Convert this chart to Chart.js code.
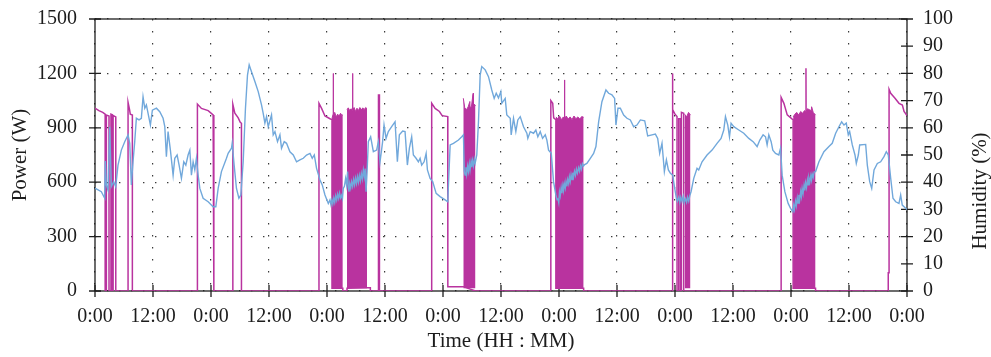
<!DOCTYPE html>
<html>
<head>
<meta charset="utf-8">
<script src="https://cdn.jsdelivr.net/npm/chart.js@4.4.1/dist/chart.umd.min.js"></script>
<style>
html,body{margin:0;padding:0;background:#fff;}
#wrap{width:991px;height:357px;position:relative;}
</style>
</head>
<body>
<div id="wrap"><canvas id="c" width="991" height="357"></canvas></div>
<script>
// ---- tick labels ----
const xTickLabels = ['0:00','12:00','0:00','12:00','0:00','12:00','0:00','12:00','0:00','12:00','0:00','12:00','0:00','12:00','0:00'];
const powerTickStep = 300;
const humidityTickStep = 10;

// ---- power (W) vs time (hours) : single on/off periods ----
const powerTime = [0,0.8,1.6,2.1,2.1,2.35,2.35,2.9,2.9,3.3,3.3,3.6,3.6,3.75,3.75,4.3,4.3,
  6.84,6.84,7.15,7.3,7.73,7.73,
  21.19,21.19,22.02,23.41,24.44,24.59,24.59,
  28.52,28.52,28.94,29.63,30.05,30.3,30.3,
  46.34,46.34,46.88,47.58,48.62,49.03,49.03,51.27,51.27,52.14,52.14,
  56.28,56.97,56.97,58.65,58.65,58.85,58.85,
  69.66,69.66,70.37,71.26,71.82,72.98,73.0,76.2,
  78.72,78.72,94.31,94.31,94.7,94.9,95.35,95.35,101.1,101.1,
  119.47,119.47,119.55,120.0,120.42,120.42,120.77,120.77,121.12,121.12,121.33,121.33,121.8,121.8,122.0,
  123.2,141.96,141.96,142.53,143.22,144.25,144.44,144.44,149.08,149.08,
  164.12,164.12,164.29,164.29,164.63,165.52,166.35,167.04,167.39,168];
const powerWatts = [1008,995,985,975,0,0,970,965,0,0,975,972,0,0,968,960,0,
  0,1040,1000,975,970,0,
  0,1031,1007,995,971,970,0,
  0,1030,980,955,930,925,0,
  0,1035,1007,965,950,945,15,15,0,0,15,
  18,18,0,0,1081,1081,0,
  0,1035,1007,990,967,962,24,24,
  0,0,0,1050,1035,955,945,15,15,0,
  0,1200,1000,975,962,0,0,950,950,0,0,985,980,0,0,
  0,0,1068,1035,971,948,945,15,15,0,
  0,100,100,1112,1090,1063,1035,1026,990,967];

// ---- rapid on/off cycling periods (envelope of the cycling, W) ----
const block1Time  = [49.03,49.2,49.28,49.29,49.32,49.33,49.6,49.9,50.2,50.5,50.8,51.1,51.27];
const block1Watts = [950,970,975,1200,1200,975,985,960,975,965,980,968,972];
const block2Time  = [52.14,52.4,52.7,53.0,53.27,53.29,53.32,53.34,53.6,53.9,54.2,54.5,54.8,55.1,55.4,55.7,56.0,56.28];
const block2Watts = [1000,1010,995,1005,995,1200,1200,1000,1012,990,1008,995,1012,998,1010,1000,1012,1005];
const block3Time  = [76.2,76.5,76.85,77.2,77.5,77.55,77.6,77.9,78.2,78.25,78.3,78.5,78.72];
const block3Watts = [1063,1010,1000,1015,1040,1045,1010,1020,1085,1090,1010,1030,1020];
const block4Time  = [95.35,95.7,96.1,96.5,96.9,97.12,97.15,97.18,97.5,97.9,98.3,98.7,99.1,99.5,99.9,100.3,100.7,101.1];
const block4Watts = [960,950,965,945,960,950,1164,950,965,948,960,945,965,950,960,948,962,958];
const block5Time  = [122.0,122.4,122.8,123.2];
const block5Watts = [975,960,985,970];
const block6Time  = [144.44,144.8,145.2,145.6,146.0,146.4,146.8,147.07,147.1,147.13,147.4,147.8,148.2,148.26,148.6,149.08];
const block6Watts = [960,975,985,970,990,980,995,990,1228,990,1005,1000,995,1016,985,970];

// ---- humidity (%) vs time (hours) ----
const humidityTime = [0,1.31,2.01,2.13,2.34,2.69,3.05,3.38,3.87,4.29,4.76,5.45,6.15,6.84,7.19,7.52,7.87,8.22,8.56,9.11,9.59,9.94,10.30,10.63,10.98,11.46,11.87,12.70,13.40,14.09,14.44,14.77,15.12,15.60,16.16,16.51,16.99,17.40,17.88,18.37,18.79,19.26,19.62,19.95,20.30,20.65,20.98,21.34,21.69,22.37,23.41,24.44,25.00,25.48,26.16,27.20,27.55,28.24,28.38,28.79,29.27,29.77,30.18,30.66,31.13,31.55,31.90,32.38,33.08,33.77,34.45,34.80,35.15,35.49,35.84,36.52,36.87,37.23,37.76,38.26,38.59,39.15,39.63,40.33,41.02,41.70,42.40,43.09,43.77,44.48,44.95,45.37,45.84,46.55,47.02,47.58,48.27,
  48.6,48.8,49.0,49.2,49.4,49.6,49.8,50.0,50.2,50.4,50.6,50.8,51.02,51.2,51.37,51.6,51.85,52.05,52.26,52.4,52.55,52.7,52.9,53.09,53.3,53.5,53.7,53.9,54.1,54.3,54.5,54.7,54.9,55.1,55.3,55.52,55.7,55.9,56.08,56.3,
  56.55,57.03,57.59,58.27,58.62,58.97,59.51,59.80,60.22,60.69,61.38,62.08,62.56,62.97,63.66,64.15,64.63,65.05,65.52,65.87,66.43,66.91,67.26,67.59,68.09,68.51,68.78,69.33,69.87,70.58,71.40,72.44,72.98,73.48,74.16,75.20,75.88,76.23,
  76.4,76.58,76.75,76.9,77.1,77.27,77.45,77.6,77.8,77.95,78.1,78.3,78.5,78.66,
  78.99,79.34,79.69,80.02,80.73,81.41,82.09,82.59,83.01,83.48,83.96,84.17,84.87,85.20,85.91,86.11,86.59,87.07,87.48,87.98,88.66,89.35,89.55,90.05,90.73,91.21,91.62,92.12,92.60,93.16,93.49,93.84,94.40,94.87,
  95.35,95.6,95.77,95.95,96.1,96.26,96.45,96.6,96.8,96.94,97.1,97.3,97.45,97.63,97.8,98.0,98.15,98.33,98.5,98.7,98.85,99.02,99.2,99.4,99.6,99.8,100.05,100.25,100.45,100.65,100.85,101.09,101.3,
  101.77,102.48,103.16,103.64,104.20,104.88,105.71,106.27,106.95,107.51,107.78,108.20,108.69,109.38,110.06,110.76,111.45,112.13,112.84,113.73,114.35,115.24,115.94,116.42,116.83,117.31,117.80,118.22,118.63,119.05,119.53,119.88,120.29,
  120.5,120.77,121.0,121.2,121.45,121.7,121.9,122.16,122.4,122.6,122.84,123.05,
  123.32,123.88,124.56,124.91,125.60,126.63,127.67,128.70,129.53,130.09,130.44,130.92,131.27,131.60,132.16,133.20,134.23,135.27,136.16,136.99,137.55,138.23,138.73,139.06,139.41,139.89,140.24,140.80,141.48,141.84,142.17,142.73,143.41,143.91,
  144.38,144.55,144.7,144.94,145.1,145.3,145.45,145.63,145.8,146.0,146.15,146.31,146.5,146.7,146.85,147.02,147.2,147.4,147.55,147.7,147.9,148.1,148.25,148.39,148.6,148.8,149.09,
  149.78,150.81,151.85,152.53,153.24,153.92,154.48,154.96,155.43,155.85,156.14,156.68,157.24,157.51,157.93,158.21,159.45,159.79,160.28,160.70,161.18,161.86,162.55,163.24,163.72,164.13,164.63,165.10,165.66,166.34,166.69,167.02,167.73,168];
const humidityPct = [37.8,36.5,34.1,47.8,39,37.1,60.4,38.4,40.2,38.3,46.3,51.8,54.9,57.4,54.3,39,47.5,54.9,63.5,62.9,63.5,71.4,67.2,68.4,65.3,61,66.5,67.2,65.9,63.5,60.4,49.4,58.6,51.8,42.6,48.8,50,46.3,41.4,47.5,46.3,50,51.8,42.6,47.5,44.5,48.8,42.6,37.7,34.1,32.8,31,31,37.7,43.9,48.8,50.6,52.5,54.3,46.3,37.7,34.1,35.3,47.5,67.2,79.4,83.1,80.6,77,73.3,68.4,65.3,61.7,64.1,60.4,64.7,57.4,58.6,54.9,57.4,52.5,54.9,54.3,51.2,50,47.5,48.2,48.8,50,50.6,48.8,50,45.1,40.8,39,35.3,32.2,
  33.5,31.8,33.6,32.0,34.2,32.6,35.0,33.4,35.6,34.0,36.0,34.2,35.2,34.0,37.7,38.5,41.4,39.0,43.9,38.0,36.5,39.5,37.8,40.2,38.5,41.0,39.0,41.5,39.5,42.0,40.0,42.5,40.5,43.2,41.2,44.5,42.0,45.0,36.5,44.0,
  54.9,56.7,51.2,51.8,54.9,47.5,54.9,61,56.1,58.6,60.4,62.2,47.5,57.4,58.8,58.6,46.3,52.5,56.7,50,48.8,47.5,48.8,46.3,47.5,50.6,44.5,41.4,40.2,35.9,34.7,33.5,32.8,53.7,54.3,55.5,56.7,57.4,
  44.0,42.6,45.5,43.0,46.0,44.0,46.8,44.5,47.5,45.5,48.0,46.0,48.5,47.0,
  50,62.2,79.4,82.5,81.3,78.8,73.9,70.8,72.7,71,73.3,69,70.8,64.7,63.5,57.4,63.5,58.6,62.9,64.1,60.4,58,56.1,58.6,58,59.2,56.7,58.6,56.1,57.4,55.5,51.8,50.6,40.2,
  35.3,33.5,34.1,32.5,36.5,35.0,38.0,36.0,38.8,37.0,39.5,37.8,40.2,38.5,41.0,39.5,42.0,40.3,42.8,41.0,43.5,42.0,44.0,42.5,44.8,43.3,45.3,44.0,46.0,44.8,46.8,46.0,46.5,
  46.9,48.8,50.6,53.1,62.2,69.6,73.9,72.7,72.1,70.8,61,67.2,67.2,64.7,63.5,62.9,60.4,61,62.9,62.6,57,57.4,57.7,56.1,50.6,54.3,43.9,48.2,44.5,43.3,42.6,38.4,34.1,
  33.0,34.5,32.5,34.5,33.0,34.8,32.5,34.0,32.6,34.5,33.0,35.0,
  36.5,41.4,45.1,44.5,47.5,50,51.8,54.3,56.1,59.2,64.1,61,56.7,61.7,60.4,59.2,58,56.1,54.9,53.1,55.5,57.4,56.7,53.7,57.4,54.9,51.8,50.6,50,52.5,42.6,36.5,32.2,30.4,
  29.2,31.5,30.0,33.0,31.3,34.2,32.3,35.3,33.5,36.5,34.8,37.7,35.8,38.8,37.0,39.8,38.0,40.8,39.0,41.6,40.0,42.4,40.8,43.0,41.8,43.8,43.9,
  47.5,51.2,53.1,54.3,58,60.4,62.2,61,61.7,57.4,58.6,53.7,50,46.9,50,53.7,53.9,46.3,40.2,37.7,44.5,46.9,47.5,49.4,51.2,50,41.4,34.1,32.8,32.2,35.3,31.6,30.4,30];

// ---- styling ----
const MAGENTA = '#b9339f';
const BLUE = '#71a8db';
const TEXT = '#1c1c1c';
const FONT = 'Liberation Serif';

const pts = (t, v) => t.map((x, i) => ({x: x, y: v[i]}));

const blocks = [[block1Time,block1Watts],[block2Time,block2Watts],[block3Time,block3Watts],
                [block4Time,block4Watts],[block5Time,block5Watts],[block6Time,block6Watts]];

const datasets = [
  {label:'Humidity', data: pts(humidityTime, humidityPct), yAxisID:'y1', borderColor: BLUE,
   borderWidth: 1.4, pointRadius: 0, tension: 0, fill: false, order: 0}
];
blocks.forEach((b, i) => datasets.push({
  label: 'cycling' + (i+1), data: pts(b[0], b[1]), yAxisID: 'y', borderColor: MAGENTA,
  backgroundColor: MAGENTA, borderWidth: 1, pointRadius: 0, tension: 0, fill: {value: 15}, order: 1
}));
datasets.push({label:'Power', data: pts(powerTime, powerWatts), yAxisID:'y', borderColor: MAGENTA,
   borderWidth: 1.5, pointRadius: 0, tension: 0, fill: false, order: 2});

const decor = {
  id: 'decor',
  beforeDatasetsDraw(chart) {
    const {ctx, chartArea: a, scales} = chart;
    ctx.save();
    ctx.strokeStyle = '#1e1e1e';
    ctx.lineWidth = 1.3;
    ctx.strokeRect(a.left, a.top, a.right - a.left, a.bottom - a.top);
    ctx.beginPath();
    scales.y.ticks.forEach(t => { const p = scales.y.getPixelForValue(t.value); ctx.moveTo(a.left - 6, p); ctx.lineTo(a.left + 6, p); });
    scales.y1.ticks.forEach(t => { const p = scales.y1.getPixelForValue(t.value); ctx.moveTo(a.right - 6, p); ctx.lineTo(a.right + 6, p); });
    scales.x.ticks.forEach(t => { const p = scales.x.getPixelForValue(t.value); ctx.moveTo(p, a.bottom - 6); ctx.lineTo(p, a.bottom + 6); });
    ctx.stroke();
    ctx.restore();
  },
  afterDraw(chart) {
    const {ctx} = chart;
    ctx.save();
    ctx.translate(980, 191);
    ctx.rotate(-Math.PI / 2);
    ctx.font = '21px "' + FONT + '"';
    ctx.fillStyle = TEXT;
    ctx.textAlign = 'center';
    ctx.textBaseline = 'middle';
    ctx.fillText('Humidity (%)', 0, 0);
    ctx.restore();
  }
};

const HIDDEN = 'rgba(0,0,0,0)';
const borderCommon = {display: false, dash: [1.4, 10.6]};

new Chart(document.getElementById('c'), {
  type: 'line',
  data: {datasets: datasets},
  plugins: [decor],
  options: {
    responsive: false,
    animation: false,
    devicePixelRatio: 1,
    layout: {padding: {top: 19, left: 0, right: 0, bottom: 0}},
    plugins: {legend: {display: false}, tooltip: {enabled: false}},
    scales: {
      x: {
        type: 'linear', position: 'bottom', min: 0, max: 168,
        grid: {color: '#3a3a3a', lineWidth: 1.2, drawTicks: true, tickLength: 14, tickColor: HIDDEN},
        border: borderCommon,
        ticks: {stepSize: 12, autoSkip: false, maxRotation: 0, padding: 0, color: TEXT,
                font: {family: FONT, size: 20},
                callback: (v, i) => xTickLabels[i]},
        title: {display: true, text: 'Time (HH : MM)', color: TEXT, font: {family: FONT, size: 21},
                padding: {top: 0, bottom: 3}},
        afterFit: s => { s.height = 66; }
      },
      y: {
        type: 'linear', position: 'left', min: 0, max: 1500,
        grid: {color: '#3a3a3a', lineWidth: 1.2, drawTicks: true, tickLength: 18, tickColor: HIDDEN},
        border: borderCommon,
        ticks: {stepSize: powerTickStep, autoSkip: false, padding: 0, color: TEXT,
                font: {family: FONT, size: 20}, callback: v => String(v)},
        title: {display: true, text: 'Power (W)', color: TEXT, font: {family: FONT, size: 21},
                padding: {top: 8, bottom: 0}},
        afterFit: s => { s.width = 95; }
      },
      y1: {
        type: 'linear', position: 'right', min: 0, max: 100,
        grid: {drawOnChartArea: false, drawTicks: true, tickLength: 16, tickColor: HIDDEN},
        border: {display: false},
        ticks: {stepSize: humidityTickStep, autoSkip: false, padding: 0, color: TEXT,
                font: {family: FONT, size: 20}, callback: v => String(v)},
        afterFit: s => { s.width = 84; }
      }
    }
  }
});
</script>
</body>
</html>
